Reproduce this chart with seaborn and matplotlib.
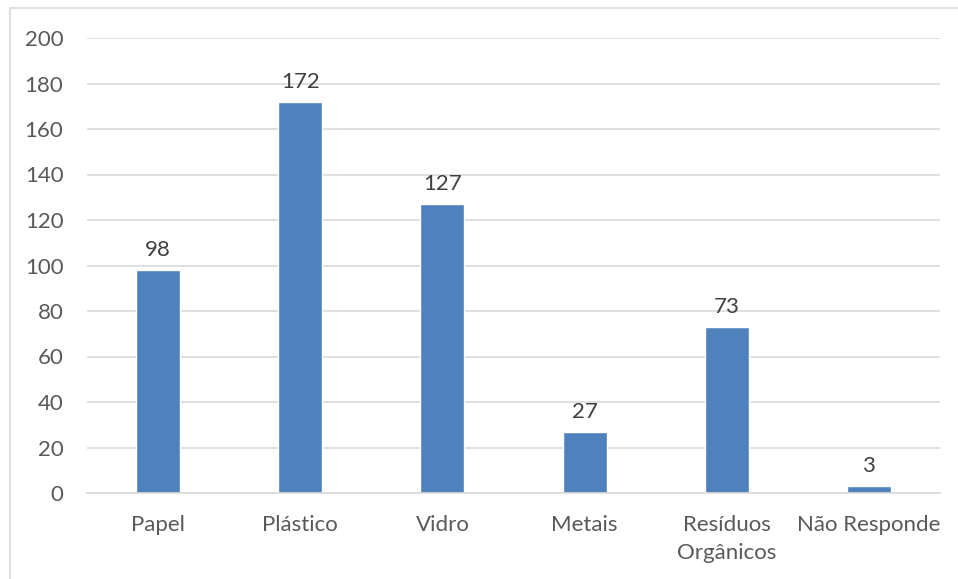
import matplotlib
matplotlib.use("Agg")
import matplotlib.pyplot as plt
import seaborn as sns
import pandas as pd
from matplotlib.patches import Rectangle

categories = ["Papel", "Plástico", "Vidro", "Metais", "Resíduos\nOrgânicos", "Não Responde"]
values = [98, 172, 127, 27, 73, 3]
yticks = [0, 20, 40, 60, 80, 100, 120, 140, 160, 180, 200]

sns.set_theme(style="white")
plt.rcParams['font.family'] = ['Lato', 'DejaVu Sans']

W, H = 958, 579
fig = plt.figure(figsize=(W / 100, H / 100), dpi=100)
ax = fig.add_axes([87 / W, 1 - 493 / H, (940 - 87) / W, (493 - 38) / H])

df = pd.DataFrame({"cat": categories, "val": values})
sns.barplot(data=df, x="cat", y="val", ax=ax, color="#4F81BD", saturation=1, width=0.31)

ax.set_ylim(0, 200)
ax.set_xlim(-0.5, len(categories) - 0.5)
ax.set_yticks(yticks)
ax.yaxis.grid(True, color="#D9D9D9", linewidth=1.2)
ax.set_axisbelow(True)
for s in ["top", "right", "left"]:
    ax.spines[s].set_visible(False)
ax.spines["bottom"].set_color("#D9D9D9")
ax.spines["bottom"].set_linewidth(1.2)
ax.set_xlabel("")
ax.set_ylabel("")
ax.tick_params(axis="y", length=0, pad=17, labelsize=16, labelcolor="#595959")
ax.tick_params(axis="x", length=0, pad=15.5, labelsize=16, labelcolor="#595959")
for lbl in ax.get_xticklabels():
    lbl.set_linespacing(1.55)

for c in ax.containers:
    ax.bar_label(c, labels=[str(v) for v in values], padding=7, fontsize=16, color="#404040")

fig.patches.append(Rectangle((10 / W, -0.1), 1.2, 1 - 8 / H + 0.1, transform=fig.transFigure,
                             fill=False, edgecolor="#D9D9D9", linewidth=1.2))

fig.savefig("out.png", dpi=100)
